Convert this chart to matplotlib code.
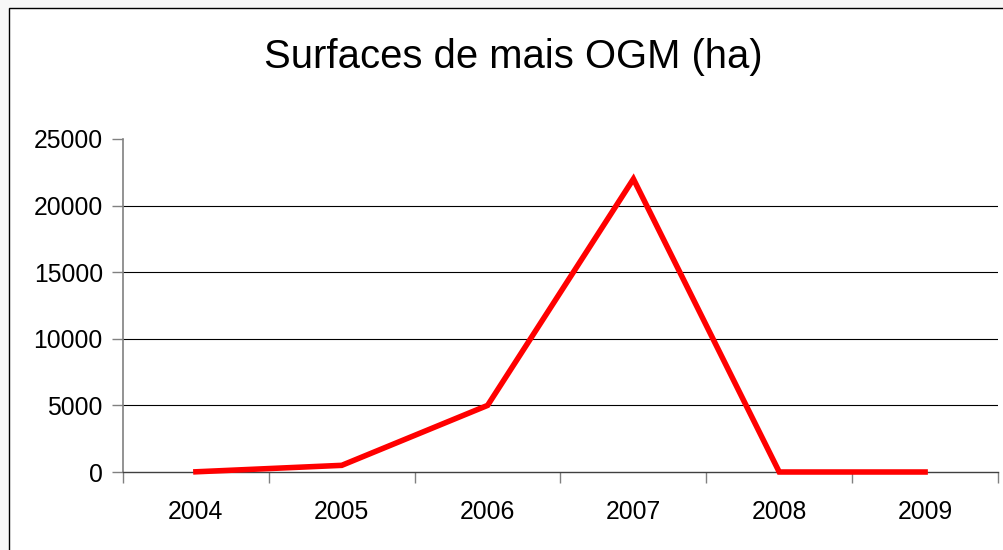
import matplotlib
matplotlib.use("Agg")
import matplotlib.pyplot as plt
from matplotlib.patches import Rectangle

years = ["2004", "2005", "2006", "2007", "2008", "2009"]
surfaces = [15, 500, 5000, 22000, 0, 0]
y_ticks = [0, 5000, 10000, 15000, 20000, 25000]

plt.rcParams['font.family'] = ['Liberation Sans', 'DejaVu Sans']

W, H = 1004, 550
fig = plt.figure(figsize=(W / 100, H / 100), dpi=100)
fig.patch.set_facecolor("#f7f7f7")
# cadre blanc du graphique
fig.patches.append(Rectangle((9 / W, -0.1), 1.2, 1 - 8 / H + 0.1, transform=fig.transFigure,
                             facecolor="white", edgecolor="black", linewidth=1.0, zorder=-5))

ax = fig.add_axes([123 / W, 1 - 472 / H, (998 - 123) / W, (472 - 139) / H])
ax.set_facecolor("none")

x = list(range(len(years)))
ax.plot(x, surfaces, color="#ff0000", linewidth=4.0, solid_joinstyle="miter", zorder=3, clip_on=False)

ax.set_xlim(-0.5, len(years) - 0.5)
ax.set_ylim(0, 25000)
ax.set_yticks(y_ticks)
ax.set_yticklabels([str(v) for v in y_ticks], fontsize=17.8)
# pas de ligne de grille en haut (25000)
for v in y_ticks[1:-1]:
    ax.axhline(v, color="black", linewidth=0.8, zorder=1)

ax.set_xticks([i - 0.5 for i in range(len(years) + 1)])
ax.set_xticklabels([])
ax.set_xticks(x, minor=True)
ax.set_xticklabels(years, minor=True, fontsize=17.8)
ax.tick_params(axis="x", which="major", length=8, width=1, color="#808080", direction="out")
ax.tick_params(axis="x", which="minor", length=0, pad=20)
ax.tick_params(axis="y", length=8, width=1, color="#808080", direction="out", pad=6.5)

for side in ["top", "right"]:
    ax.spines[side].set_visible(False)
ax.spines["left"].set_color("#808080")
ax.spines["bottom"].set_color("#404040")
ax.spines["left"].set_linewidth(1.2)
ax.spines["bottom"].set_linewidth(1.0)

fig.text(513 / W, 1 - 68 / H, "Surfaces de mais OGM (ha)", ha="center", va="baseline", fontsize=28.8)

fig.savefig("out.png", dpi=100, facecolor=fig.get_facecolor())
